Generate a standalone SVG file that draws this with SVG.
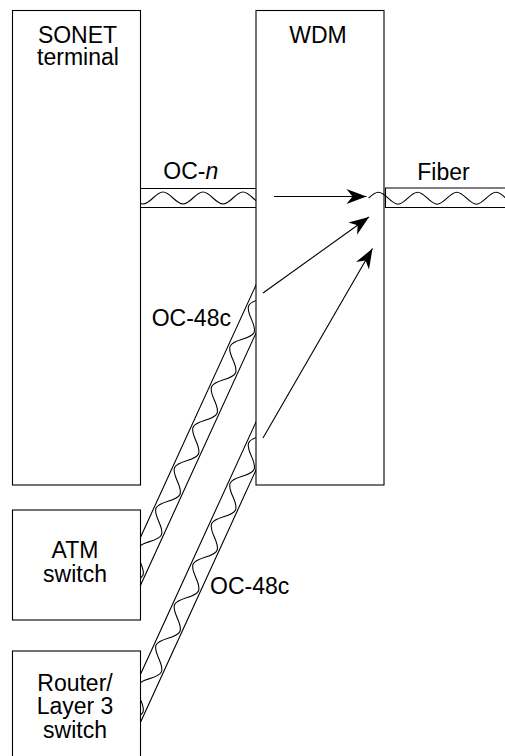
<svg xmlns="http://www.w3.org/2000/svg" xmlns:xlink="http://www.w3.org/1999/xlink" width="505" height="756" viewBox="0 0 505 756">
<style>
.box{fill:#fff;stroke:#000;stroke-width:1.1}
.ln{fill:none;stroke:#000;stroke-width:1.1}
.t{font-family:"Liberation Sans",Arial,Helvetica,sans-serif;font-size:23px;fill:#000}
.c{text-anchor:middle}
</style>
<defs>
<marker id="ah" markerUnits="userSpaceOnUse" markerWidth="22" markerHeight="18" viewBox="-21 -9 22 18" refX="0" refY="0" orient="auto" overflow="visible">
<path d="M0,0 L-20,-7.5 L-14,0 L-20,7.5 Z" fill="#000"/>
</marker>
<clipPath id="gap" clipPathUnits="userSpaceOnUse"><rect x="140.5" y="0" width="115.5" height="756"/></clipPath>
<g id="fib">
<g transform="translate(256,309) rotate(114.6)">
<path class="ln" d="M-50,-10 H330 M-50,10 H330"/>
<path class="ln" d="M-44.5,8 c8.1,0 14.15,-16 22.25,-16 s14.15,16 22.25,16 s14.15,-16 22.25,-16 s14.15,16 22.25,16 s14.15,-16 22.25,-16 s14.15,16 22.25,16 s14.15,-16 22.25,-16 s14.15,16 22.25,16 s14.15,-16 22.25,-16 s14.15,16 22.25,16 s14.15,-16 22.25,-16 s14.15,16 22.25,16 s14.15,-16 22.25,-16 s14.15,16 22.25,16 s14.15,-16 22.25,-16 s14.15,16 22.25,16 s14.15,-16 22.25,-16"/>
</g>
</g>
</defs>

<g id="sonet">
<rect class="box" x="12.5" y="10.5" width="128" height="474.5"/>
<text class="t c" x="77.5" y="42.7">SONET</text>
<text class="t c" x="78" y="65.3">terminal</text>
</g>

<g id="wdm">
<rect class="box" x="256" y="10.5" width="128" height="474.5"/>
<text class="t c" x="318" y="42.7">WDM</text>
</g>

<g id="atm">
<rect class="box" x="12.5" y="510" width="128" height="110"/>
<text class="t c" x="75" y="558.3">ATM</text>
<text class="t c" x="75" y="582">switch</text>
</g>

<g id="router">
<rect class="box" x="12.5" y="651" width="128" height="115"/>
<text class="t c" x="75" y="691">Router/</text>
<text class="t c" x="75" y="714.3">Layer 3</text>
<text class="t c" x="75" y="737.7">switch</text>
</g>

<g id="connectors">
<g clip-path="url(#gap)">
<path class="ln" d="M130,188.5 H270 M130,207.5 H270"/>
<path class="ln" d="M123,192 c7.27,0 12.73,12 20,12 s12.73,-12 20,-12 s12.73,12 20,12 s12.73,-12 20,-12 s12.73,12 20,12 s12.73,-12 20,-12 s12.73,12 20,12 s12.73,-12 20,-12"/>
<use xlink:href="#fib"/>
<use xlink:href="#fib" y="137"/>
</g>
<path class="ln" d="M515,188 H385.5 V207.5 H515"/>
<path class="ln" d="M368.6,198.2 c3.2,-3.2 6.25,-6 9.8,-6 c7.13,0 12.47,12 19.6,12 s12.47,-12 19.6,-12 s12.47,12 19.6,12 s12.47,-12 19.6,-12 s12.47,12 19.6,12 s12.47,-12 19.6,-12 s12.47,12 19.6,12"/>
<line class="ln" x1="274" y1="196.5" x2="366.5" y2="196.5" marker-end="url(#ah)"/>
<line class="ln" x1="263" y1="293" x2="369" y2="217" marker-end="url(#ah)"/>
<line class="ln" x1="263" y1="438" x2="372.5" y2="248.5" marker-end="url(#ah)"/>
<text class="t" x="163.3" y="179.3">OC-<tspan font-style="italic">n</tspan></text>
<text class="t" x="417.3" y="180">Fiber</text>
<text class="t" x="151.7" y="326">OC-48c</text>
<text class="t" x="210" y="594">OC-48c</text>
</g>
</svg>
